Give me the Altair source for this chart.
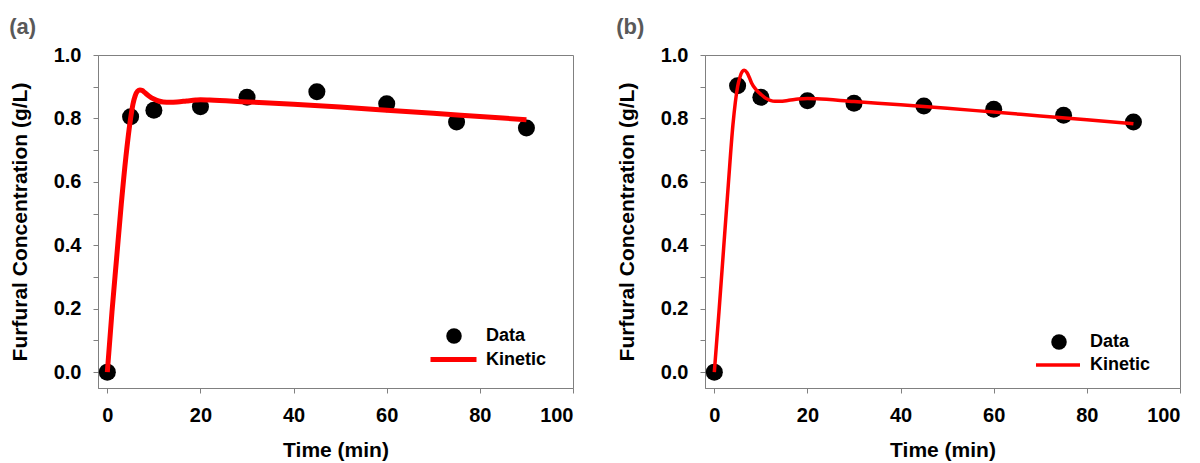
import altair as alt
import pandas as pd

# ---- data ----
time_pts = [0, 5, 10, 20, 30, 45, 60, 75, 90]
data_a = [0.0, 0.805, 0.826, 0.837, 0.867, 0.884, 0.846, 0.789, 0.770]
data_b = [0.0, 0.903, 0.867, 0.856, 0.848, 0.839, 0.829, 0.810, 0.789]

kin_t_a = [0, 1, 2, 3, 4, 5, 5.5, 6, 6.5, 7, 7.5, 8, 9, 10, 11, 12, 13.5, 15,
           17, 19, 20, 22, 30, 40, 50, 60, 70, 80, 90]
kin_a = [0.0, 0.19, 0.36, 0.53, 0.68, 0.80, 0.845, 0.872, 0.886, 0.890, 0.888,
         0.882, 0.870, 0.861, 0.855, 0.852, 0.851, 0.852, 0.855, 0.858, 0.859,
         0.858, 0.852, 0.845, 0.836, 0.826, 0.816, 0.806, 0.796]

kin_t_b = [0, 1, 2, 3, 4, 5, 5.5, 6, 6.4, 7, 7.5, 8, 9, 10, 11, 12, 13, 14,
           16, 18, 20, 22, 30, 40, 50, 60, 70, 80, 90]
kin_b = [0.0, 0.19, 0.39, 0.59, 0.78, 0.90, 0.930, 0.948, 0.952, 0.945, 0.930,
         0.912, 0.890, 0.876, 0.864, 0.857, 0.854, 0.854, 0.857, 0.861, 0.863,
         0.862, 0.853, 0.843, 0.832, 0.820, 0.808, 0.796, 0.783]

x_ticks = [0, 20, 40, 60, 80, 100]
y_ticks = [0.0, 0.1, 0.2, 0.3, 0.4, 0.5, 0.6, 0.7, 0.8, 0.9, 1.0]

FONT = "Liberation Sans"


def panel(label, t_data, y_data, t_kin, y_kin, lw, dot_leg, line_leg, line_len):
    pts = pd.DataFrame({"t": t_data, "c": y_data, "series": "Data"})
    kin = pd.DataFrame({"t": t_kin, "c": y_kin, "model": "Kinetic"})

    x = alt.X("t:Q",
              scale=alt.Scale(domain=[-2, 100], nice=False, zero=False),
              axis=alt.Axis(values=x_ticks, title="Time (min)",
                            labelPadding=12, titlePadding=14))
    y = alt.Y("c:Q",
              scale=alt.Scale(domain=[-0.05, 1.0], nice=False, zero=False),
              axis=alt.Axis(values=y_ticks,
                            labelExpr="(round(datum.value*10) % 2 == 0) ? format(datum.value, '.1f') : ''",
                            title="Furfural Concentration (g/L)",
                            labelPadding=12, titlePadding=23))

    common = dict(title=None, orient="none", labelFontSize=18, labelFont=FONT,
                  labelFontWeight="bold", labelColor="black", rowPadding=0,
                  padding=0)

    dot_legend = alt.Legend(legendX=dot_leg[0], legendY=dot_leg[1],
                            symbolType="circle", symbolSize=240,
                            symbolStrokeWidth=0, labelOffset=dot_leg[2], **common)
    line_legend = alt.Legend(legendX=line_leg[0], legendY=line_leg[1],
                             symbolType="stroke", symbolSize=line_len ** 2,
                             symbolStrokeWidth=lw, labelOffset=line_leg[2], **common)

    points = alt.Chart(pts).mark_point(filled=True, size=290, opacity=1,
                                       shape="circle", strokeWidth=0).encode(
        x=x, y=y,
        fill=alt.Fill("series:N", scale=alt.Scale(domain=["Data"], range=["black"]),
                      legend=dot_legend),
    )
    line = alt.Chart(kin).mark_line(strokeWidth=lw, interpolate="monotone").encode(
        x=x, y=y,
        stroke=alt.Stroke("model:N", scale=alt.Scale(domain=["Kinetic"], range=["#ff0000"]),
                          legend=line_legend),
    )

    return alt.layer(points, line).properties(
        width=475, height=333,
        title=alt.TitleParams(label, anchor="start", frame="bounds", fontSize=22,
                              font=FONT, fontWeight="bold", color="#595959",
                              offset=6),
    )


chart = alt.hconcat(
    panel("(a)", time_pts, data_a, kin_t_a, kin_a, 5,
          (347, 272, 23), (330, 279, 7), 46),
    panel("(b)", time_pts, data_b, kin_t_b, kin_b, 3.5,
          (345, 278, 22), (329, 286, 8), 44),
    spacing=41,
).resolve_scale(
    fill="independent", stroke="independent"
).resolve_legend(
    fill="independent", stroke="independent"
).properties(
    padding={"left": 0, "top": 7, "right": 0, "bottom": 0},
).configure_view(
    stroke="#808080", strokeWidth=1
).configure_axis(
    grid=False, domainColor="#808080", tickColor="#808080", tickSize=5,
    labelFont=FONT, labelFontSize=20, labelFontWeight="bold", labelColor="black",
    titleFont=FONT, titleFontSize=21, titleFontWeight="bold", titleColor="black",
)

chart.save("out.html", embed_options={"renderer": "svg", "actions": False})
